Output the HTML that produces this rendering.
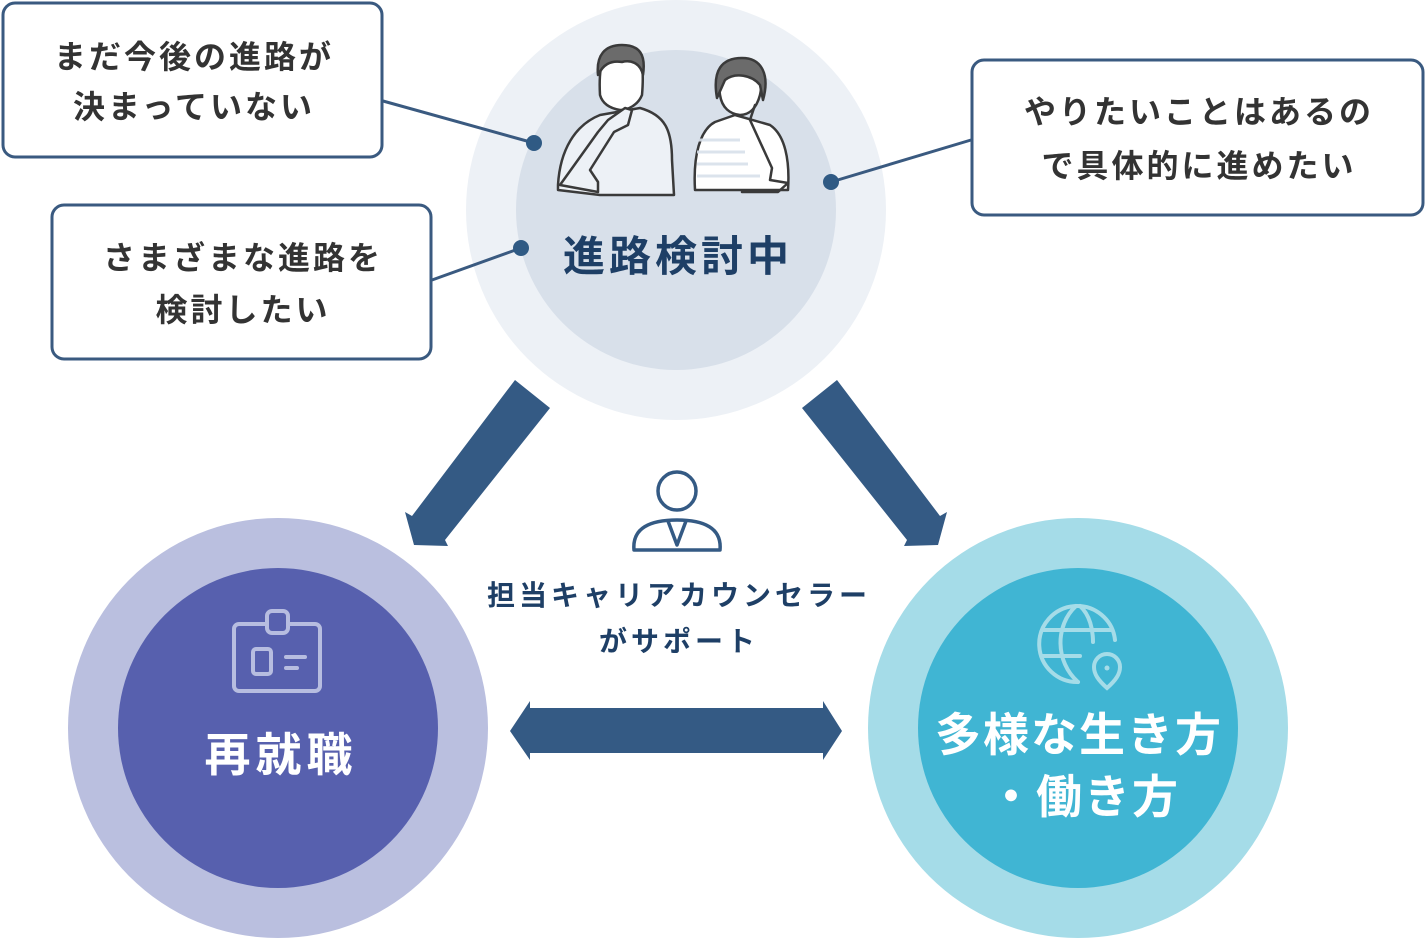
<!DOCTYPE html>
<html><head><meta charset="utf-8"><style>
body{margin:0;background:#fff;}
svg{display:block;font-family:"Liberation Sans","Noto Sans CJK JP",sans-serif;font-weight:bold;}
</style></head><body>
<svg width="1426" height="940" viewBox="0 0 1426 940">
<circle cx="676" cy="210" r="210" fill="#edf1f6"/>
<circle cx="676" cy="210" r="160" fill="#d8e0ea"/>
<g stroke="#3a3a3a" stroke-width="2.5" stroke-linejoin="round" stroke-linecap="round">
<path d="M558 185 C560 150 575 125 600 115 L640 108 C665 115 672 130 672 160 L674 195 L600 195 L558 190 Z" fill="#edf1f6"/>
<path d="M600 95 C598 60 605 48 622 46 C640 46 645 60 642 95 C638 105 628 110 620 110 C608 108 602 102 600 95 Z" fill="#fff"/>
<path d="M598 75 C596 55 605 45 622 45 C640 45 646 55 643 75 C640 62 630 60 622 62 C610 60 603 65 598 75 Z" fill="#6b6b6b"/>
<path d="M560 185 L598 132 L608 120 L625 108 L632 110 L628 125 L614 132 L590 170 L598 182 L598 192 Z" fill="#edf1f6"/>
<path d="M695 190 C693 155 700 130 715 122 L735 115 L770 125 C785 135 790 160 788 190 L695 190 Z" fill="#fff"/>
<path d="M720 95 C716 70 725 60 740 60 C758 60 765 72 760 95 C756 110 748 115 740 115 C730 114 722 108 720 95 Z" fill="#fff"/>
<path d="M717 98 C712 70 722 58 742 58 C762 58 770 75 763 100 L760 85 C752 75 735 72 725 80 Z" fill="#6b6b6b"/>
<path d="M755 105 L750 120 L772 168 L770 180 L788 183 L778 192 L742 192" fill="none"/>
</g>
<g stroke="#d8e0ea" stroke-width="3" opacity="0.9">
<line x1="698" y1="140" x2="740" y2="140"/><line x1="697" y1="152" x2="745" y2="152"/><line x1="697" y1="164" x2="748" y2="164"/><line x1="697" y1="176" x2="760" y2="176"/>
</g>
<text x="678" y="271" font-size="42" letter-spacing="4" fill="#1e3f66" text-anchor="middle">進路検討中</text>
<circle cx="278" cy="728" r="210" fill="#babfdf"/>
<circle cx="278" cy="728" r="160" fill="#5760ae"/>
<g fill="none" stroke="#b7bde0" stroke-width="4" stroke-linecap="round">
<rect x="234" y="624" width="86" height="67" rx="5"/>
<rect x="267" y="611" width="21" height="22" rx="5" fill="#5760ae"/>
<rect x="253" y="649" width="18" height="25" rx="3"/>
<line x1="286" y1="657" x2="305" y2="657"/><line x1="286" y1="668" x2="297" y2="668"/>
</g>
<text x="281" y="771" font-size="46" letter-spacing="5" fill="#fff" text-anchor="middle">再就職</text>
<circle cx="1078" cy="728" r="210" fill="#a5dce8"/>
<circle cx="1078" cy="728" r="160" fill="#40b5d3"/>
<g fill="none" stroke="#a5dce8" stroke-width="4" stroke-linecap="round">
<path d="M1115 640 A38 38 0 1 0 1078 682"/>
<path d="M1076 606 C1055 625 1055 662 1078 682 M1080 606 C1090 615 1093 630 1093 642"/>
<line x1="1042" y1="630" x2="1112" y2="630"/><line x1="1042" y1="656" x2="1080" y2="656"/>
<path d="M1107 688 C1098 680 1094 674 1094 667 A13 13 0 0 1 1120 667 C1120 674 1116 680 1107 688 Z"/>
</g>
<circle cx="1107" cy="668" r="2.5" fill="#a5dce8"/>
<text x="1079" y="751" font-size="46" letter-spacing="2" fill="#fff" text-anchor="middle">多様な生き方</text>
<text x="1084" y="813" font-size="46" letter-spacing="2" fill="#fff" text-anchor="middle">・働き方</text>
<polygon points="515,380 550,408 445,540 448,546 414,545 405,512 412,516" fill="#345a84"/>
<polygon points="837,380 802,408 907,540 904,546 938,545 947,512 940,516" fill="#345a84"/>
<polygon points="510,731 530,701 530,708 823,708 823,701 842,731 823,760 823,753 530,753 530,760" fill="#345a84"/>
<g fill="none" stroke="#345a84" stroke-width="3.5" stroke-linejoin="round">
<circle cx="677" cy="491" r="19"/>
<path d="M634 550 C632 528 650 520 677 520 C704 520 722 528 720 550 Z"/>
<path d="M668 521 L677 545 L686 521"/>
</g>
<text x="679" y="605" font-size="28" letter-spacing="4" fill="#1e3f66" text-anchor="middle">担当キャリアカウンセラー</text>
<text x="679" y="651" font-size="28" letter-spacing="4" fill="#1e3f66" text-anchor="middle">がサポート</text>
<g fill="#fff" stroke="#3a5a80" stroke-width="3">
<rect x="3" y="3" width="379" height="154" rx="12"/>
<rect x="52" y="205" width="379" height="154" rx="12"/>
<rect x="972" y="60" width="451" height="155" rx="12"/>
</g>
<g stroke="#3a5a80" stroke-width="3">
<line x1="383" y1="101" x2="534" y2="143"/>
<line x1="432" y1="280" x2="521" y2="248"/>
<line x1="971" y1="140" x2="831" y2="182"/>
</g>
<g fill="#2f5a84"><circle cx="534" cy="143" r="8"/><circle cx="521" cy="248" r="8"/><circle cx="831" cy="182" r="8"/></g>
<g font-size="32" letter-spacing="3" fill="#333" text-anchor="middle">
<text x="194" y="68">まだ今後の進路が</text><text x="194" y="118">決まっていない</text>
<text x="243" y="269">さまざまな進路を</text><text x="243" y="321">検討したい</text>
<text x="1199" y="123">やりたいことはあるの</text><text x="1199" y="177">で具体的に進めたい</text>
</g>
</svg>
</body></html>
